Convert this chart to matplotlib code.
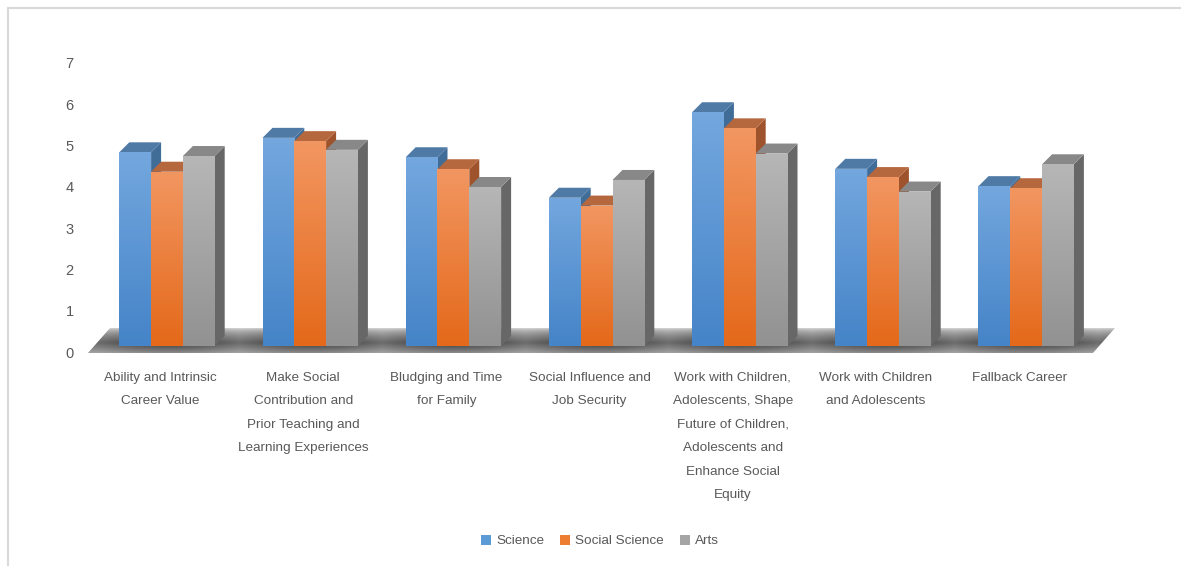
import numpy as np
import matplotlib.pyplot as plt
from matplotlib.patches import Polygon, Patch
from matplotlib.colors import LinearSegmentedColormap
from matplotlib.transforms import ScaledTranslation
from matplotlib import font_manager

categories = [
    "Ability and Intrinsic\nCareer Value",
    "Make Social\nContribution and\nPrior Teaching and\nLearning Experiences",
    "Bludging and Time\nfor Family",
    "Social Influence and\nJob Security",
    "Work with Children,\nAdolescents, Shape\nFuture of Children,\nAdolescents and\nEnhance Social\nEquity",
    "Work with Children\nand Adolescents",
    "Fallback Career",
]
series_names = ["Science", "Social Science", "Arts"]
science = [4.69, 5.04, 4.57, 3.59, 5.66, 4.29, 3.87]
social_science = [4.22, 4.96, 4.28, 3.40, 5.27, 4.09, 3.82]
arts = [4.60, 4.75, 3.85, 4.02, 4.66, 3.74, 4.40]
yticks = [0, 1, 2, 3, 4, 5, 6, 7]

# pick a narrow sans if there is one
installed = {f.name for f in font_manager.fontManager.ttflist}
font = "DejaVu Sans"
for cand in ["Liberation Sans Narrow", "Liberation Sans", "Open Sans"]:
    if cand in installed:
        font = cand
        break
narrow = font == "Liberation Sans Narrow"
fs = 11.6 if narrow else 9.7
plt.rcParams["font.family"] = [font, "DejaVu Sans"]
text_col = "#595959"

W, H = 1181, 566
fig = plt.figure(figsize=(W / 100, H / 100), dpi=100)

# axes box in pixels and the px scale of the "3d" chart
left_px, right_px, top_px, bot_px = 80, 1130, 40, 360
x0_px, step_px = 167, 143.2      # centre of first group, group spacing
y0_px, unit_px = 346, 41.3       # front base of bars, px per unit
ax = fig.add_axes([left_px / W, 1 - bot_px / H,
                   (right_px - left_px) / W, (bot_px - top_px) / H])

dx = 10 / step_px
dy = 10 / unit_px
bw = 31.8 / step_px

# floor (shadow plate)
n = len(categories)
fl = np.array([[-0.552, -0.17], [n - 1 + 0.466, -0.17],
               [n - 1 + 0.62, 0.436], [-0.398, 0.436]])
floor = Polygon(fl, closed=True, facecolor="none", edgecolor="none")
ax.add_patch(floor)
ny, nx = 60, 600
yy = np.linspace(0, 1, ny)[:, None]
xx = np.linspace(fl[0, 0], fl[2, 0], nx)[None, :]
vert = np.clip(1 - np.abs(yy - 0.4) / 0.6, 0, 1) ** 0.45
horiz = 0.78 + 0.22 * np.abs(np.cos(np.pi * xx))
shade = 1 - 0.74 * vert * horiz
floor_img = ax.imshow(shade, extent=(fl[0, 0], fl[2, 0], fl[0, 1], fl[2, 1]),
                      origin="lower", cmap="gray", vmin=0, vmax=1,
                      aspect="auto", zorder=1, interpolation="bilinear")
floor_img.set_clip_path(floor)

styles = [
    dict(top="#73a7de", bot="#4584c8", cap="#4f7aa6", side="#406c98"),
    dict(top="#f29661", bot="#e4691a", cap="#b5673d", side="#9f532c"),
    dict(top="#b6b6b6", bot="#929292", cap="#888888", side="#676767"),
]
values = [science, social_science, arts]
x = np.arange(n)
grad = np.linspace(0, 1, 64)[:, None]
z = 2
for i in range(n):
    for k, vals in enumerate(values):
        st = styles[k]
        xl = x[i] + (k - 1.5) * bw
        v = vals[i]
        side = Polygon([[xl + bw, 0], [xl + bw + dx, dy], [xl + bw + dx, v + dy], [xl + bw, v]],
                       facecolor=st["side"], edgecolor="none", zorder=z)
        cap = Polygon([[xl, v], [xl + dx, v + dy], [xl + bw + dx, v + dy], [xl + bw, v]],
                      facecolor=st["cap"], edgecolor="none", zorder=z)
        ax.add_patch(side)
        ax.add_patch(cap)
        bar = ax.bar(xl, v, width=bw, align="edge", color=st["bot"],
                     linewidth=0, zorder=z + 0.5)[0]
        cmap = LinearSegmentedColormap.from_list("g%d" % k, [st["bot"], st["top"]])
        img = ax.imshow(grad, extent=(xl, xl + bw, 0, v), origin="lower", cmap=cmap,
                        aspect="auto", zorder=z + 0.6, interpolation="bilinear")
        img.set_clip_path(bar)
        z += 1

ax.set_xlim((left_px - x0_px) / step_px, (right_px - x0_px) / step_px)
ax.set_ylim((y0_px - bot_px) / unit_px, (y0_px - top_px) / unit_px)

for s in ax.spines.values():
    s.set_visible(False)
ax.set_yticks(yticks)
ax.set_yticklabels([str(t) for t in yticks])
ax.tick_params(axis="y", length=0, pad=4.5, labelsize=fs + 0.8, labelcolor=text_col)
down = ScaledTranslation(0, -6 / 100, fig.dpi_scale_trans)
for lab in ax.get_yticklabels():
    lab.set_transform(lab.get_transform() + down)

# category labels, one text per line so the line pitch matches (~23 px)
ax.set_xticks([])
for i, cat in enumerate(categories):
    for j, line in enumerate(cat.split("\n")):
        ax.annotate(line, xy=(x[i], 0), xycoords=("data", "axes fraction"),
                    xytext=(-7 * 0.72, -(12 + 23.4 * j) * 0.72), textcoords="offset points",
                    ha="center", va="top", fontsize=fs, color=text_col)

legend_cols = ["#5b9bd5", "#ed7d31", "#a5a5a5"]
handles = [Patch(facecolor=legend_cols[k], label=series_names[k]) for k in range(3)]
fig.legend(handles=handles, loc="center", bbox_to_anchor=(600 / W, 1 - 541 / H), ncol=3,
           frameon=False, fontsize=fs, labelcolor=text_col, handlelength=0.75,
           handleheight=0.75, handletextpad=0.35, columnspacing=1.2)

# chart border (top and left edges show in the crop)
fig.add_artist(plt.Line2D([7.5 / W, 7.5 / W], [0, 1 - 7.5 / H], color="#d9d9d9", lw=1.5))
fig.add_artist(plt.Line2D([7.5 / W, 1], [1 - 7.5 / H, 1 - 7.5 / H], color="#d9d9d9", lw=1.5))

fig.savefig("out.png", dpi=100)
